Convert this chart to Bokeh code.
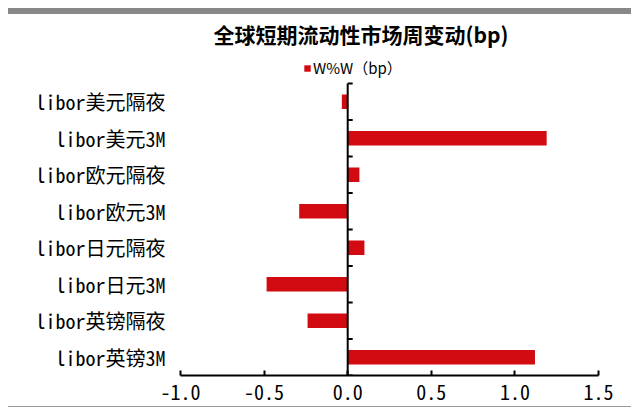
from bokeh.plotting import figure
from bokeh.models import (Range1d, FixedTicker, Legend, LegendItem, Div, Label,
                          NumeralTickFormatter, ColumnDataSource)
from bokeh.layouts import column
from bokeh.embed import file_html
from bokeh.resources import INLINE

categories = ["libor美元隔夜", "libor美元3M", "libor欧元隔夜", "libor欧元3M",
              "libor日元隔夜", "libor日元3M", "libor英镑隔夜", "libor英镑3M"]
values = [-0.035, 1.19, 0.07, -0.29, 0.10, -0.485, -0.24, 1.12]
x_ticks = [-1.0, -0.5, 0.0, 0.5, 1.0, 1.5]
title_text = "全球短期流动性市场周变动(bp)"
legend_text = "W%W（bp）"

n = len(categories)
ypos = [n - i - 0.5 for i in range(n)]
boundaries = list(range(n + 1))

MONO = "Noto Sans Mono CJK SC"
RED = "#D20A11"

# frame spans the whole height above the x axis; headroom holds title + legend
p = figure(width=623, height=392, output_backend="svg", toolbar_location=None,
           x_range=Range1d(x_ticks[0], x_ticks[-1]), y_range=Range1d(0, n + 1.89),
           min_border_left=172, min_border_right=33, min_border_top=0,
           min_border_bottom=31)
p.outline_line_color = None
p.grid.visible = False

src = ColumnDataSource(dict(y=ypos, v=values))
r = p.hbar(y="y", right="v", left=0, height=0.4, source=src, fill_color=RED,
           line_color=None)

# vertical axis at x=0 and category boundary ticks
p.segment(x0=[0], y0=[boundaries[0]], x1=[0], y1=[boundaries[-1]],
          line_color="black", line_width=2)
p.ray(x=[0] * len(boundaries), y=boundaries, length=5, length_units="screen",
      angle=0, line_color="black", line_width=2)

xa = p.xaxis[0]
xa.ticker = FixedTicker(ticks=x_ticks)
xa.formatter = NumeralTickFormatter(format="0.0")
xa.major_tick_in = 5
xa.major_tick_out = 0
xa.minor_tick_line_color = None
xa.axis_line_width = 2
xa.major_tick_line_width = 2
xa.major_label_text_font = MONO
xa.major_label_text_font_size = "20px"
xa.major_label_text_color = "black"
xa.major_label_standoff = 9

ya = p.yaxis[0]
ya.ticker = FixedTicker(ticks=ypos)
ya.major_label_overrides = {y: c for y, c in zip(ypos, categories)}
ya.major_tick_in = 0
ya.major_tick_out = 0
ya.minor_tick_line_color = None
ya.axis_line_color = None
ya.major_label_text_font = MONO
ya.major_label_text_font_size = "20px"
ya.major_label_text_color = "black"
ya.major_label_standoff = 15

title = Label(text=title_text, x=33, y=341.5, x_units="screen", y_units="screen",
              text_font="Noto Sans CJK SC", text_font_style="bold",
              text_font_size="21px", text_color="black",
              text_align="left", text_baseline="middle")
p.add_layout(title)

legend = Legend(items=[LegendItem(label=legend_text, renderers=[r])],
                location=(123, 297), orientation="horizontal",
                glyph_width=8, glyph_height=8, padding=0, margin=0,
                label_text_font="Noto Sans CJK SC", label_text_font_size="15px",
                label_text_color="black",
                label_standoff=2, border_line_color=None,
                background_fill_alpha=0, label_height=16)
p.add_layout(legend, "center")

top_bar = Div(text="", width=623, height=6, margin=0,
              styles={"background-color": "#888888"})
bottom_line = Div(text="", width=623, height=1, margin=0,
                  styles={"background-color": "#999999"})

layout = column(top_bar, p, bottom_line, spacing=0, margin=(8, 0, 0, 8))
open("out.html", "w").write(file_html(layout, INLINE))
